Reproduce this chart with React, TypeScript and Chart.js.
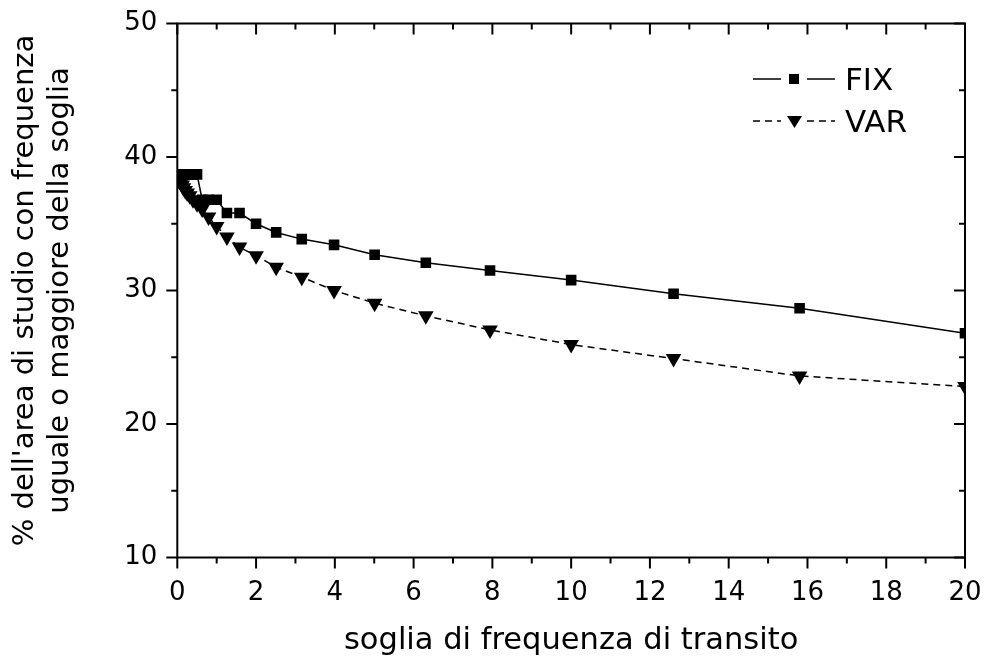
import React, { useEffect, useRef } from "react";
import { Chart, registerables } from "chart.js";

Chart.register(...registerables);

// threshold values (x) – log spaced, 10 per decade
const thresholds = [
  0.0316, 0.0398, 0.0501, 0.0631, 0.0794, 0.1, 0.126, 0.158, 0.2, 0.251,
  0.316, 0.398, 0.501, 0.631, 0.794, 1, 1.26, 1.58, 2, 2.51, 3.16, 3.98,
  5.01, 6.31, 7.94, 10, 12.6, 15.8, 20,
];

const fixValues = [
  38.7, 38.7, 38.7, 38.7, 38.7, 38.7, 38.7, 38.7, 38.7, 38.7,
  38.7, 38.7, 38.7, 36.8, 36.8, 36.8, 35.8, 35.8, 35.0, 34.35, 33.85, 33.42,
  32.68, 32.08, 31.5, 30.78, 29.76, 28.67, 26.8,
];

const varValues = [
  38.3, 38.3, 38.3, 38.25, 38.2, 38.1, 37.9, 37.7, 37.5, 37.3,
  37.1, 36.8, 36.5, 36.1, 35.5, 34.8, 34.0, 33.25, 32.6, 31.75, 31.0, 30.0,
  29.05, 28.1, 27.05, 25.95, 24.9, 23.6, 22.8,
];

const seriesNames = ["FIX", "VAR"];
const xTitle = "soglia di frequenza di transito";
const yTitle = ["% dell'area di studio con frequenza", "uguale o maggiore della soglia"];

const X_MIN = 0, X_MAX = 20, X_MAJOR = 2, X_MINOR = 1;
const Y_MIN = 10, Y_MAX = 50, Y_MAJOR = 10, Y_MINOR = 5;

const FONT = "'DejaVu Sans', 'Liberation Sans', Arial, sans-serif";

const zeroPad = (s: any) => {
  s.paddingTop = 0;
  s.paddingBottom = 0;
  s.paddingLeft = 0;
  s.paddingRight = 0;
};

const framePlugin = {
  id: "frame",
  afterDraw(chart: any) {
    const { ctx, chartArea } = chart;
    const { left, right, top, bottom } = chartArea;
    const xs = chart.scales.x;
    const ys = chart.scales.y;
    ctx.save();
    ctx.strokeStyle = "#000";
    ctx.lineWidth = 2;
    ctx.beginPath();
    ctx.rect(left, top, right - left, bottom - top);
    ctx.stroke();
    const seg = (x1: number, y1: number, x2: number, y2: number) => {
      ctx.beginPath();
      ctx.moveTo(x1, y1);
      ctx.lineTo(x2, y2);
      ctx.stroke();
    };
    for (let v = X_MIN; v <= X_MAX + 1e-9; v += X_MINOR) {
      const px = xs.getPixelForValue(v);
      const len = Math.abs(v % X_MAJOR) < 1e-9 ? 11 : 6;
      seg(px, bottom, px, bottom + len);
      seg(px, top, px, top + len);
    }
    for (let v = Y_MIN; v <= Y_MAX + 1e-9; v += Y_MINOR) {
      const py = ys.getPixelForValue(v);
      const len = Math.abs(v % Y_MAJOR) < 1e-9 ? 11 : 6;
      seg(left, py, left - len, py);
      seg(right, py, right - len, py);
    }

    // legend
    const rows = [
      { name: seriesNames[0], y: 79, dash: [] as number[], marker: "rect" },
      { name: seriesNames[1], y: 121, dash: [7, 5], marker: "tri" },
    ];
    ctx.font = `31px ${FONT}`;
    ctx.fillStyle = "#000";
    for (const r of rows) {
      ctx.lineWidth = 1.5;
      ctx.setLineDash(r.dash);
      seg(753, r.y, 781, r.y);
      seg(807, r.y, 835, r.y);
      ctx.setLineDash([]);
      ctx.beginPath();
      if (r.marker === "rect") {
        ctx.rect(789, r.y - 5, 10, 10);
      } else {
        ctx.moveTo(787, r.y - 5);
        ctx.lineTo(802, r.y - 5);
        ctx.lineTo(794.5, r.y + 7);
        ctx.closePath();
      }
      ctx.fill();
      ctx.textBaseline = "alphabetic";
      ctx.textAlign = "left";
      ctx.fillText(r.name, 845, r.y + 11);
    }
    ctx.restore();
  },
};

export default function App() {
  const ref = useRef<HTMLCanvasElement | null>(null);
  useEffect(() => {
    if (!ref.current) return;
    const mk = (vals: number[]) => thresholds.map((x, i) => ({ x, y: vals[i] }));
    const chart = new Chart(ref.current, {
      type: "line",
      data: {
        datasets: [
          {
            label: seriesNames[0],
            data: mk(fixValues),
            borderColor: "#000",
            backgroundColor: "#000",
            borderWidth: 1.5,
            pointStyle: "rect",
            pointRadius: 7.5,
            pointBorderWidth: 0,
            tension: 0,
          },
          {
            label: seriesNames[1],
            data: mk(varValues),
            borderColor: "#000",
            backgroundColor: "#000",
            borderWidth: 1.5,
            borderDash: [7, 5],
            pointStyle: "triangle",
            pointRotation: 180,
            pointRadius: 9,
            pointBorderWidth: 0,
            tension: 0,
          },
        ],
      },
      options: {
        animation: false,
        responsive: false,
        devicePixelRatio: 1,
        layout: { padding: { top: 23.5, right: 22, left: 0, bottom: 0 } },
        plugins: { legend: { display: false }, tooltip: { enabled: false } },
        scales: {
          x: {
            type: "linear",
            min: X_MIN,
            max: X_MAX,
            grid: { display: false, drawTicks: false },
            border: { display: false },
            ticks: {
              stepSize: X_MAJOR,
              color: "#000",
              padding: 20,
              maxRotation: 0,
              font: { family: FONT, size: 26 },
            },
            title: {
              display: true,
              text: xTitle,
              color: "#000",
              font: { family: FONT, size: 30.5 },
              padding: { top: 0, bottom: 1 },
            },
            afterFit: (s: any) => {
              s.height = 102.5;
              zeroPad(s);
            },
          },
          y: {
            type: "linear",
            min: Y_MIN,
            max: Y_MAX,
            grid: { display: false, drawTicks: false },
            border: { display: false },
            ticks: {
              stepSize: Y_MAJOR,
              color: "#000",
              padding: 20,
              font: { family: FONT, size: 26 },
            },
            title: {
              display: true,
              text: yTitle,
              color: "#000",
              font: { family: FONT, size: 29 },
              padding: { top: 8, bottom: 0 },
            },
            afterFit: (s: any) => {
              s.width = 177.3;
              zeroPad(s);
            },
          },
        },
      },
      plugins: [framePlugin],
    });
    return () => chart.destroy();
  }, []);
  return (
    <div style={{ position: "absolute", left: 0, top: 0, width: 987, height: 660, background: "#fff" }}>
      <canvas ref={ref} width={987} height={660} style={{ width: 987, height: 660 }} />
    </div>
  );
}
